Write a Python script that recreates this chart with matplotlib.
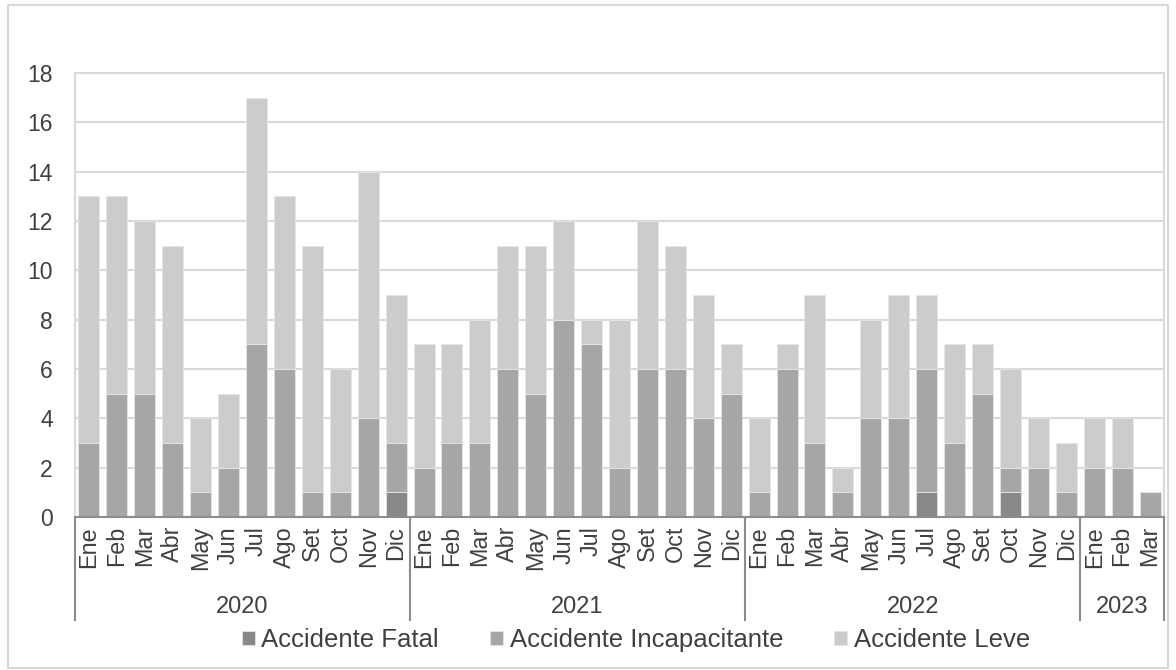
import numpy as np
import matplotlib
matplotlib.use("Agg")
import matplotlib.pyplot as plt
from matplotlib.patches import Rectangle

plt.rcParams['font.family'] = ['Liberation Sans', 'DejaVu Sans']

months = ['Ene', 'Feb', 'Mar', 'Abr', 'May', 'Jun', 'Jul', 'Ago', 'Set', 'Oct', 'Nov', 'Dic'] * 3 + ['Ene', 'Feb', 'Mar']
years = ['2020', '2021', '2022', '2023']
year_counts = [12, 12, 12, 3]

fatal = [0, 0, 0, 0, 0, 0, 0, 0, 0, 0, 0, 1,
         0, 0, 0, 0, 0, 0, 0, 0, 0, 0, 0, 0,
         0, 0, 0, 0, 0, 0, 1, 0, 0, 1, 0, 0,
         0, 0, 0]
incap = [3, 5, 5, 3, 1, 2, 7, 6, 1, 1, 4, 2,
         2, 3, 3, 6, 5, 8, 7, 2, 6, 6, 4, 5,
         1, 6, 3, 1, 4, 4, 5, 3, 5, 1, 2, 1,
         2, 2, 1]
leve = [10, 8, 7, 8, 3, 3, 10, 7, 10, 5, 10, 6,
        5, 4, 5, 5, 6, 4, 1, 6, 6, 5, 5, 2,
        3, 1, 6, 1, 4, 5, 3, 4, 2, 4, 2, 2,
        2, 2, 0]

text_col = '#404040'
grid_col = '#d9d9d9'
axis_col = '#8c8c8c'

fig = plt.figure(figsize=(11.76, 6.70), dpi=100)
ax = fig.add_axes([75 / 1176, 1 - 517 / 670, (1164 - 75) / 1176, (517 - 73) / 670])

x = np.arange(len(months))
fatal = np.array(fatal)
incap = np.array(incap)
leve = np.array(leve)

w = 0.75
ax.bar(x, fatal, w, color='#898989', edgecolor='#e6e6e6', linewidth=0.6, label='Accidente Fatal', zorder=3)
ax.bar(x, incap, w, bottom=fatal, color='#a6a6a6', edgecolor='#e6e6e6', linewidth=0.6,
       label='Accidente Incapacitante', zorder=3)
ax.bar(x, leve, w, bottom=fatal + incap, color='#cccccc', edgecolor='#e6e6e6', linewidth=0.6,
       label='Accidente Leve', zorder=3)

ax.set_xlim(-0.5, len(months) - 0.5)
ax.set_ylim(0, 18)
ax.set_yticks(range(0, 19, 2))
ax.yaxis.grid(True, color=grid_col, linewidth=1.5, zorder=0)
ax.tick_params(axis='y', length=0, pad=16, labelsize=16.5, labelcolor=text_col)
ax.set_xticks([])

for s in ['top', 'left', 'right']:
    ax.spines[s].set_color(grid_col)
    ax.spines[s].set_linewidth(1.5)
ax.spines['bottom'].set_color(axis_col)
ax.spines['bottom'].set_linewidth(1.5)
ax.spines['bottom'].set_zorder(4)

trans = ax.get_xaxis_transform()
for i, m in enumerate(months):
    ax.text(i, -0.02, m, rotation=90, ha='center', va='top', fontsize=16.8,
            color=text_col, transform=trans)

start = 0
bounds = [-0.5]
for y, n in zip(years, year_counts):
    ax.text(start + (n - 1) / 2, -0.203, y, ha='center', va='center', fontsize=17,
            color=text_col, transform=trans)
    start += n
    bounds.append(start - 0.5)
for b in bounds:
    ax.plot([b, b], [0, -0.232], color=axis_col, linewidth=1.5, transform=trans, clip_on=False)

fig.legend(loc='center', bbox_to_anchor=(636 / 1176, 1 - 640 / 670), ncol=3, frameon=False,
           fontsize=18.5, handlelength=0.5, handleheight=0.5, handletextpad=0.25,
           columnspacing=2.0, labelcolor=text_col)

fig.patches.append(Rectangle((8 / 1176, 2 / 670), 1160 / 1176, 663 / 670, transform=fig.transFigure,
                             fill=False, edgecolor=grid_col, linewidth=1.5))

fig.savefig('out.png', dpi=100)
